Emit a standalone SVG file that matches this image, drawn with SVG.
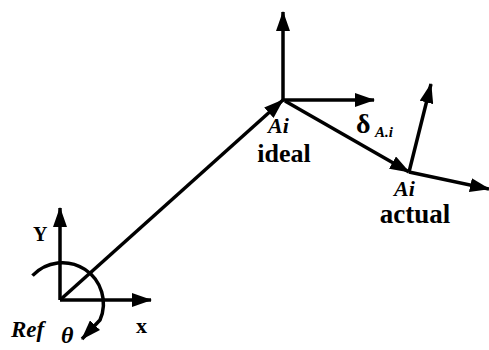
<svg xmlns="http://www.w3.org/2000/svg" width="489" height="350" viewBox="0 0 489 350">
<style>
.ln{stroke:#000;stroke-width:3.5;fill:none}
.t{font-family:"Liberation Serif",serif;font-weight:bold;fill:#000}
.s{font-family:"Liberation Serif",serif;font-style:italic;font-weight:bold;fill:#000}
</style>
<defs>
<marker id="ah" viewBox="0 0 20 14" refX="19" refY="7" markerWidth="20" markerHeight="14" markerUnits="userSpaceOnUse" orient="auto">
<path d="M0,0 L20,7 L0,14 Z" fill="#000"/>
</marker>
</defs>
<rect width="489" height="350" fill="#fff"/>
<g id="connectors">
<line class="ln" x1="60" y1="300" x2="283" y2="100" marker-end="url(#ah)"/>
<line class="ln" x1="285" y1="101" x2="409" y2="172" marker-end="url(#ah)"/>
</g>
<g id="ref">
<line class="ln" x1="60" y1="300" x2="60" y2="208" marker-end="url(#ah)"/>
<line class="ln" x1="60" y1="300" x2="151" y2="300" marker-end="url(#ah)"/>
<path class="ln" d="M32.5,275.6 A41,41 0 0 1 100,320 L82,339" marker-end="url(#ah)"/>
<text class="t" x="33" y="241" font-size="20">Y</text>
<text class="t" x="136" y="333" font-size="22">x</text>
<text class="s" x="11" y="337" font-size="23">Ref</text>
<text class="s" x="61" y="343" font-size="24">θ</text>
</g>
<g id="ideal">
<line class="ln" x1="283" y1="100" x2="283" y2="12" marker-end="url(#ah)"/>
<line class="ln" x1="283" y1="100" x2="374" y2="100" marker-end="url(#ah)"/>
<text class="s" x="268" y="133" font-size="22">Ai</text>
<text class="t" x="284" y="162" font-size="26" text-anchor="middle">ideal</text>
</g>
<g id="delta">
<text class="t" x="356" y="133" font-size="28">δ</text>
<text class="s" x="375" y="137" font-size="15">A.i</text>
</g>
<g id="actual">
<line class="ln" x1="409" y1="172" x2="431" y2="84" marker-end="url(#ah)"/>
<line class="ln" x1="409" y1="172" x2="489" y2="189" marker-end="url(#ah)"/>
<text class="s" x="394" y="196" font-size="22">Ai</text>
<text class="t" x="415" y="223" font-size="27" text-anchor="middle">actual</text>
</g>
</svg>
